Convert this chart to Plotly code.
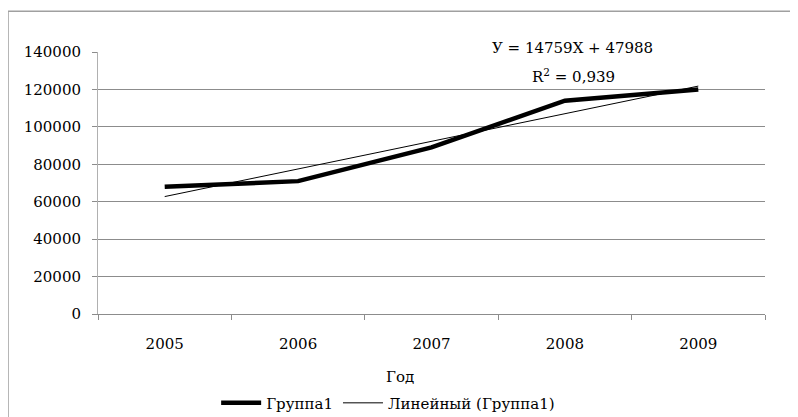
import plotly.graph_objects as go

years = ["2005", "2006", "2007", "2008", "2009"]
group_values = [68000, 71000, 89000, 114000, 120000]
trend_values = [62747, 77506, 92265, 107024, 121783]
y_ticks = [0, 20000, 40000, 60000, 80000, 100000, 120000, 140000]
series_name = "Группа1"
trend_name = "Линейный (Группа1)"
x_title = "Год"
eq_text = "У = 14759X + 47988"
r2_text = "R<sup>2</sup> = 0,939"

FONT = "DejaVu Serif"
FS = 15

fig = go.Figure()
fig.add_trace(go.Scatter(x=years, y=group_values, mode="lines", name=series_name,
                         line=dict(color="black", width=4.5)))
fig.add_trace(go.Scatter(x=years, y=trend_values, mode="lines", name=trend_name,
                         line=dict(color="black", width=1)))

fig.update_layout(
    width=790, height=409,
    margin=dict(l=90, r=33, t=44, b=103, autoexpand=False),
    paper_bgcolor="white", plot_bgcolor="white",
    font=dict(family=FONT, size=FS, color="black"),
    showlegend=True,
    legend=dict(orientation="h", x=0.435, xanchor="center", y=-0.34, yanchor="middle",
                font=dict(family=FONT, size=FS, color="black"), itemwidth=40, tracegroupgap=0,
                bgcolor="rgba(0,0,0,0)"),
    xaxis=dict(type="category", range=[-0.5, 4.5], showgrid=False, showline=True,
               linecolor="#8c8c8c", linewidth=1, ticks="outside", tickson="boundaries",
               ticklen=5, tickcolor="#8c8c8c", tickfont=dict(family=FONT, size=FS, color="black"),
               ticklabelstandoff=16, zeroline=False, automargin=False),
    yaxis=dict(range=[0, 140000], tickvals=y_ticks, tickformat="d", showgrid=True,
               gridcolor="#8c8c8c", gridwidth=1, showline=True, linecolor="#b0b0b0",
               linewidth=1, ticks="outside", ticklen=5, tickcolor="#8c8c8c", zeroline=False,
               tickfont=dict(family=FONT, size=FS, color="black"), ticklabelstandoff=8,
               automargin=False),
    annotations=[
        dict(text=x_title, xref="paper", yref="paper", x=0.453, y=-0.24,
             xanchor="center", yanchor="middle",
             showarrow=False, font=dict(family=FONT, size=FS, color="black")),
        dict(text=eq_text, xref="paper", yref="paper", x=0.711, y=1.015,
             xanchor="center", yanchor="middle",
             showarrow=False, font=dict(family=FONT, size=FS, color="black")),
        dict(text=r2_text, xref="paper", yref="paper", x=0.713, y=0.908,
             xanchor="center", yanchor="middle",
             showarrow=False, font=dict(family=FONT, size=FS, color="black")),
    ],
    shapes=[
        dict(type="line", xref="paper", yref="paper", x0=-0.1349, x1=1.2, y0=1.156, y1=1.156,
             line=dict(color="#a0a0a0", width=1.5)),
        dict(type="line", xref="paper", yref="paper", x0=-0.1349, x1=-0.1349, y0=1.156, y1=-0.6,
             line=dict(color="#a0a0a0", width=1.5)),
    ],
)

fig.write_html("out.html")
